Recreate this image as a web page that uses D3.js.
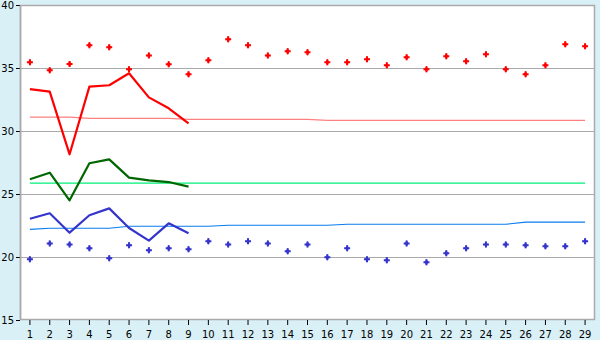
<!DOCTYPE html>
<html>
<head>
<meta charset="utf-8">
<script src="https://cdn.jsdelivr.net/npm/d3@7"></script>
<style>
  body { margin: 0; background: #d9f0f7; }
  svg { display: block; }
  .axis text { font-family: "DejaVu Sans", Verdana, sans-serif; font-size: 10px; fill: #000; }
  .axis path { display: none; }
  .axis line { stroke: #000; }
</style>
</head>
<body>
<svg id="chart"></svg>
<script>
const width = 600;
const height = 340;

// days on the x axis
const days = [1,2,3,4,5,6,7,8,9,10,11,12,13,14,15,16,17,18,19,20,21,22,23,24,25,26,27,28,29];
const yTicks = [15, 20, 25, 30, 35, 40];

// record highs / lows (markers)
const highPts = [35.45,34.82,35.32,36.8,36.64,34.9,36.0,35.29,34.5,35.61,37.28,36.8,36.0,36.33,36.25,35.45,35.45,35.69,35.21,35.85,34.9,35.93,35.53,36.09,34.9,34.5,35.21,36.88,36.72];
const lowPts = [19.82,21.08,21.0,20.69,19.9,20.93,20.53,20.69,20.61,21.25,21.0,21.25,21.08,20.45,21.0,19.98,20.69,19.82,19.74,21.08,19.58,20.29,20.69,21.0,21.0,20.93,20.85,20.85,21.25];

// observed this month (days 1-9)
const maxTemp = [33.33,33.12,28.15,33.52,33.63,34.58,32.67,31.8,30.6];
const meanTemp = [26.17,26.69,24.5,27.44,27.75,26.3,26.08,25.95,25.58];
const minTemp = [23.04,23.47,21.93,23.31,23.86,22.3,21.3,22.67,21.88];

// normals
const maxNormal = [31.1,31.1,31.1,31.0,31.0,31.0,31.0,31.0,30.93,30.93,30.93,30.93,30.93,30.93,30.93,30.85,30.85,30.85,30.85,30.85,30.85,30.85,30.85,30.85,30.85,30.85,30.85,30.85,30.85];
const meanNormal = [25.87,25.87,25.87,25.87,25.87,25.87,25.87,25.87,25.87,25.87,25.87,25.87,25.87,25.87,25.87,25.87,25.87,25.87,25.87,25.87,25.87,25.87,25.87,25.87,25.87,25.87,25.87,25.87,25.87];
const minNormal = [22.2,22.28,22.28,22.28,22.28,22.44,22.44,22.44,22.44,22.44,22.52,22.52,22.52,22.52,22.52,22.52,22.6,22.6,22.6,22.6,22.6,22.6,22.6,22.6,22.6,22.76,22.76,22.76,22.76];

const margin = {top: 5, right: 5, bottom: 20, left: 20};

const svg = d3.select("#chart")
    .attr("width", width)
    .attr("height", height);

const x = d3.scaleBand()
    .domain(days)
    .range([margin.left, width - margin.right]);
const cx = d => x(d) + x.bandwidth() / 2;

const y = d3.scaleLinear()
    .domain([15, 40])
    .range([height - margin.bottom, margin.top]);

// plot background
svg.append("rect")
    .attr("x", margin.left)
    .attr("y", margin.top)
    .attr("width", width - margin.left - margin.right)
    .attr("height", height - margin.top - margin.bottom)
    .attr("fill", "#fff");

// gridlines
svg.append("g")
    .selectAll("line")
    .data([20, 25, 30, 35])
    .enter()
    .append("line")
    .attr("x1", margin.left)
    .attr("x2", width - margin.right)
    .attr("y1", d => Math.round(y(d)) + 0.5)
    .attr("y2", d => Math.round(y(d)) + 0.5)
    .attr("stroke", "#aaa");

// frame
svg.append("rect")
    .attr("x", margin.left + 0.5)
    .attr("y", margin.top + 0.5)
    .attr("width", width - margin.left - margin.right - 1)
    .attr("height", height - margin.top - margin.bottom - 1)
    .attr("fill", "none")
    .attr("stroke", "#aaa")
    .attr("stroke-width", 1.5);

const line = arr => d3.line()
    .x((d, i) => cx(days[i]))
    .y(d => y(d))(arr);

// normal lines (thin)
[[maxNormal, "#ff8080"], [meanNormal, "#00ee77"], [minNormal, "#0a7cf0"]].forEach(([arr, col]) => {
    svg.append("path")
        .attr("d", line(arr))
        .attr("fill", "none")
        .attr("stroke", col)
        .attr("stroke-width", 1.2);
});

// observed lines (thick)
[[maxTemp, "#ff0000"], [meanTemp, "#006600"], [minTemp, "#3535cc"]].forEach(([arr, col]) => {
    svg.append("path")
        .attr("d", line(arr))
        .attr("fill", "none")
        .attr("stroke", col)
        .attr("stroke-width", 2.2)
        .attr("stroke-linejoin", "round");
});

// record markers: cross + diamond blob
const cross = d3.symbol().type(d3.symbolCross).size(20);
const diamond = d3.symbol().type(d3.symbolDiamond).size(12);
[[highPts, "#ff0000"], [lowPts, "#3535cc"]].forEach(([arr, col]) => {
    const g = svg.append("g")
        .selectAll("g")
        .data(arr)
        .enter()
        .append("g")
        .attr("transform", (d, i) => `translate(${cx(days[i])},${y(d)})`)
        .attr("fill", col);
    g.append("path").attr("d", cross);
    g.append("path").attr("d", diamond);
});

// axes
svg.append("g")
    .attr("class", "axis")
    .attr("transform", `translate(${margin.left},0)`)
    .call(d3.axisLeft(y).tickValues(yTicks).tickSize(4).tickPadding(2));

svg.append("g")
    .attr("class", "axis")
    .attr("transform", `translate(0,${height - margin.bottom})`)
    .call(d3.axisBottom(x).tickSize(5).tickPadding(6));

// left axis line
svg.append("line")
    .attr("x1", margin.left + 0.5).attr("x2", margin.left + 0.5)
    .attr("y1", margin.top).attr("y2", height - margin.bottom)
    .attr("stroke", "#aaa").attr("stroke-width", 1.5);
</script>
</body>
</html>
